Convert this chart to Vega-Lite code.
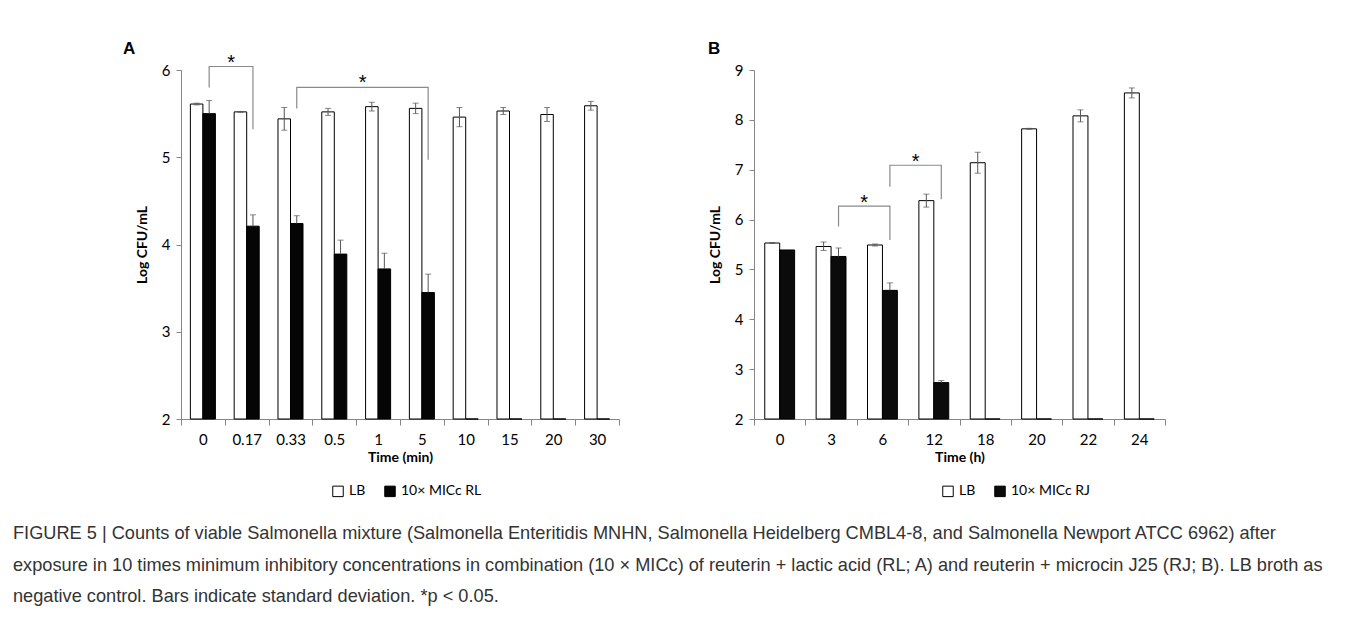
{
  "$schema": "https://vega.github.io/schema/vega-lite/v6.json",
  "background": "white",
  "padding": {"left": 13, "top": 39, "right": 5, "bottom": 5},
  "config": {
    "font": "Lato",
    "view": {"stroke": null},
    "axis": {
      "domainColor": "#868686", "tickColor": "#868686", "labelColor": "#000", "titleColor": "#000",
      "labelFont": "Lato", "titleFont": "Lato", "labelFontSize": 15, "titleFontSize": 14, "titleFontWeight": "bold", "grid": false, "tickSize": 5
    },
    "legend": {"labelFont": "Lato", "labelFontSize": 14, "labelColor": "#000"}
  },
  "datasets": {
    "barsA": [
      {"t": "0", "g": "LB", "v": 5.61}, {"t": "0", "g": "10× MICc RL", "v": 5.50},
      {"t": "0.17", "g": "LB", "v": 5.52}, {"t": "0.17", "g": "10× MICc RL", "v": 4.21},
      {"t": "0.33", "g": "LB", "v": 5.44}, {"t": "0.33", "g": "10× MICc RL", "v": 4.24},
      {"t": "0.5", "g": "LB", "v": 5.52}, {"t": "0.5", "g": "10× MICc RL", "v": 3.89},
      {"t": "1", "g": "LB", "v": 5.58}, {"t": "1", "g": "10× MICc RL", "v": 3.72},
      {"t": "5", "g": "LB", "v": 5.56}, {"t": "5", "g": "10× MICc RL", "v": 3.45},
      {"t": "10", "g": "LB", "v": 5.46}, {"t": "10", "g": "10× MICc RL", "v": 2},
      {"t": "15", "g": "LB", "v": 5.53}, {"t": "15", "g": "10× MICc RL", "v": 2},
      {"t": "20", "g": "LB", "v": 5.49}, {"t": "20", "g": "10× MICc RL", "v": 2},
      {"t": "30", "g": "LB", "v": 5.59}, {"t": "30", "g": "10× MICc RL", "v": 2}
    ],
    "errA": [
      {"t": "0", "g": "LB", "lo": 5.60, "hi": 5.62}, {"t": "0", "g": "10× MICc RL", "lo": 5.50, "hi": 5.65},
      {"t": "0.17", "g": "LB", "lo": 5.515, "hi": 5.525}, {"t": "0.17", "g": "10× MICc RL", "lo": 4.21, "hi": 4.34},
      {"t": "0.33", "g": "LB", "lo": 5.31, "hi": 5.57}, {"t": "0.33", "g": "10× MICc RL", "lo": 4.24, "hi": 4.33},
      {"t": "0.5", "g": "LB", "lo": 5.48, "hi": 5.56}, {"t": "0.5", "g": "10× MICc RL", "lo": 3.89, "hi": 4.05},
      {"t": "1", "g": "LB", "lo": 5.53, "hi": 5.63}, {"t": "1", "g": "10× MICc RL", "lo": 3.72, "hi": 3.90},
      {"t": "5", "g": "LB", "lo": 5.50, "hi": 5.62}, {"t": "5", "g": "10× MICc RL", "lo": 3.45, "hi": 3.66},
      {"t": "10", "g": "LB", "lo": 5.35, "hi": 5.57},
      {"t": "15", "g": "LB", "lo": 5.49, "hi": 5.57},
      {"t": "20", "g": "LB", "lo": 5.41, "hi": 5.57},
      {"t": "30", "g": "LB", "lo": 5.54, "hi": 5.64}
    ],
    "brA": [
      {"b": 1, "o": 1, "t": "0", "g": "10× MICc RL", "y": 5.80},
      {"b": 1, "o": 2, "t": "0", "g": "10× MICc RL", "y": 6.04},
      {"b": 1, "o": 3, "t": "0.17", "g": "10× MICc RL", "y": 6.04},
      {"b": 1, "o": 4, "t": "0.17", "g": "10× MICc RL", "y": 5.32},
      {"b": 2, "o": 1, "t": "0.33", "g": "10× MICc RL", "y": 5.56},
      {"b": 2, "o": 2, "t": "0.33", "g": "10× MICc RL", "y": 5.80},
      {"b": 2, "o": 3, "t": "5", "g": "10× MICc RL", "y": 5.80},
      {"b": 2, "o": 4, "t": "5", "g": "10× MICc RL", "y": 4.97}
    ],
    "starA": [
      {"t": "0", "g": "10× MICc RL", "y": 6.04, "s": "*"},
      {"t": "0.5", "g": "10× MICc RL", "y": 5.80, "s": "*"}
    ],
    "barsB": [
      {"t": "0", "g": "LB", "v": 5.53}, {"t": "0", "g": "10× MICc RJ", "v": 5.39},
      {"t": "3", "g": "LB", "v": 5.46}, {"t": "3", "g": "10× MICc RJ", "v": 5.26},
      {"t": "6", "g": "LB", "v": 5.49}, {"t": "6", "g": "10× MICc RJ", "v": 4.58},
      {"t": "12", "g": "LB", "v": 6.38}, {"t": "12", "g": "10× MICc RJ", "v": 2.73},
      {"t": "18", "g": "LB", "v": 7.14}, {"t": "18", "g": "10× MICc RJ", "v": 2},
      {"t": "20", "g": "LB", "v": 7.82}, {"t": "20", "g": "10× MICc RJ", "v": 2},
      {"t": "22", "g": "LB", "v": 8.08}, {"t": "22", "g": "10× MICc RJ", "v": 2},
      {"t": "24", "g": "LB", "v": 8.54}, {"t": "24", "g": "10× MICc RJ", "v": 2}
    ],
    "errB": [
      {"t": "0", "g": "LB", "lo": 5.52, "hi": 5.54},
      {"t": "3", "g": "LB", "lo": 5.38, "hi": 5.55}, {"t": "3", "g": "10× MICc RJ", "lo": 5.26, "hi": 5.43},
      {"t": "6", "g": "LB", "lo": 5.47, "hi": 5.51}, {"t": "6", "g": "10× MICc RJ", "lo": 4.58, "hi": 4.73},
      {"t": "12", "g": "LB", "lo": 6.25, "hi": 6.51}, {"t": "12", "g": "10× MICc RJ", "lo": 2.73, "hi": 2.77},
      {"t": "18", "g": "LB", "lo": 6.93, "hi": 7.35},
      {"t": "20", "g": "LB", "lo": 7.81, "hi": 7.83},
      {"t": "22", "g": "LB", "lo": 7.96, "hi": 8.20},
      {"t": "24", "g": "LB", "lo": 8.44, "hi": 8.64}
    ],
    "brB": [
      {"b": 1, "o": 1, "t": "3", "g": "10× MICc RJ", "y": 5.86},
      {"b": 1, "o": 2, "t": "3", "g": "10× MICc RJ", "y": 6.27},
      {"b": 1, "o": 3, "t": "6", "g": "10× MICc RJ", "y": 6.27},
      {"b": 1, "o": 4, "t": "6", "g": "10× MICc RJ", "y": 5.59},
      {"b": 2, "o": 1, "t": "6", "g": "10× MICc RJ", "y": 6.66},
      {"b": 2, "o": 2, "t": "6", "g": "10× MICc RJ", "y": 7.09},
      {"b": 2, "o": 3, "t": "12", "g": "10× MICc RJ", "y": 7.09},
      {"b": 2, "o": 4, "t": "12", "g": "10× MICc RJ", "y": 6.41}
    ],
    "starB": [
      {"t": "3", "g": "10× MICc RJ", "y": 6.27, "s": "*"},
      {"t": "6", "g": "10× MICc RJ", "y": 7.09, "s": "*"}
    ]
  },
  "title": {
    "text": [
      "FIGURE 5 | Counts of viable Salmonella mixture (Salmonella Enteritidis MNHN, Salmonella Heidelberg CMBL4-8, and Salmonella Newport ATCC 6962) after",
      "exposure in 10 times minimum inhibitory concentrations in combination (10 × MICc) of reuterin + lactic acid (RL; A) and reuterin + microcin J25 (RJ; B). LB broth as",
      "negative control. Bars indicate standard deviation. *p < 0.05."
    ],
    "orient": "bottom", "anchor": "start", "frame": "bounds",
    "font": "Liberation Sans", "fontSize": 18.2, "fontWeight": "normal", "color": "#333333",
    "lineHeight": 31.5, "offset": 26, "dx": -110
  },
  "spacing": 88,
  "resolve": {"scale": {"x": "independent", "y": "independent", "fill": "independent", "xOffset": "independent"}, "legend": {"fill": "independent"}},
  "hconcat": [
    {
      "width": 438, "height": 349,
      "title": {"text": "A", "anchor": "start", "frame": "group", "dx": -58, "offset": -5, "font": "Liberation Sans", "fontSize": 17, "fontWeight": "bold", "color": "#000"},
      "encoding": {
        "x": {"field": "t", "type": "nominal", "sort": ["0", "0.17", "0.33", "0.5", "1", "5", "10", "15", "20", "30"],
              "scale": {"paddingInner": 0, "paddingOuter": 0},
              "axis": {"title": "Time (min)", "labelAngle": 0, "tickBand": "extent", "tickSize": 6, "labelPadding": 7, "titlePadding": 3}},
        "xOffset": {"field": "g", "type": "nominal", "sort": ["LB", "10× MICc RL"], "scale": {"paddingOuter": 0.75, "paddingInner": 0}}
      },
      "layer": [
        {
          "data": {"name": "barsA"},
          "mark": {"type": "bar", "stroke": "#000", "strokeWidth": 1},
          "encoding": {
            "y": {"field": "v", "type": "quantitative", "scale": {"domain": [2, 6], "zero": false, "nice": false},
                  "axis": {"values": [2, 3, 4, 5, 6], "format": "d", "title": "Log CFU/mL", "labelPadding": 6, "titlePadding": 12}},
            "y2": {"datum": 2},
            "fill": {"field": "g", "type": "nominal", "sort": ["LB", "10× MICc RL"],
                     "scale": {"domain": ["LB", "10× MICc RL"], "range": ["#ffffff", "#050505"]},
                     "legend": {"title": null, "orient": "none", "legendX": 150, "legendY": 414, "direction": "horizontal",
                                "symbolType": "square", "symbolSize": 110, "symbolStrokeColor": "#000", "symbolStrokeWidth": 1, "columnPadding": 16, "labelOffset": 4}}
          }
        },
        {
          "data": {"name": "errA"},
          "mark": {"type": "rule", "color": "#555555", "strokeWidth": 1},
          "encoding": {"y": {"field": "lo", "type": "quantitative"}, "y2": {"field": "hi"}}
        },
        {
          "data": {"name": "errA"},
          "mark": {"type": "tick", "color": "#555555", "size": 6, "thickness": 1, "orient": "horizontal"},
          "encoding": {"y": {"field": "hi", "type": "quantitative"}}
        },
        {
          "data": {"name": "errA"},
          "transform": [{"filter": "datum.g == 'LB'"}],
          "mark": {"type": "tick", "color": "#555555", "size": 6, "thickness": 1, "orient": "horizontal"},
          "encoding": {"y": {"field": "lo", "type": "quantitative"}}
        },
        {
          "data": {"name": "brA"},
          "mark": {"type": "line", "color": "#8a8a8a", "strokeWidth": 1.2, "interpolate": "linear"},
          "encoding": {"y": {"field": "y", "type": "quantitative"}, "detail": {"field": "b"}, "order": {"field": "o"}}
        },
        {
          "data": {"name": "starA"},
          "mark": {"type": "text", "font": "Liberation Sans", "fontSize": 20, "dx": 22, "dy": -4, "baseline": "middle", "fill": "#000"},
          "encoding": {"y": {"field": "y", "type": "quantitative"}, "text": {"field": "s"}}
        }
      ]
    },
    {
      "width": 411, "height": 349,
      "title": {"text": "B", "anchor": "start", "frame": "group", "dx": -46, "offset": 5, "font": "Liberation Sans", "fontSize": 17, "fontWeight": "bold", "color": "#000"},
      "encoding": {
        "x": {"field": "t", "type": "nominal", "sort": ["0", "3", "6", "12", "18", "20", "22", "24"],
              "scale": {"paddingInner": 0, "paddingOuter": 0},
              "axis": {"title": "Time (h)", "labelAngle": 0, "tickBand": "extent", "tickSize": 6, "labelPadding": 7, "titlePadding": 3}},
        "xOffset": {"field": "g", "type": "nominal", "sort": ["LB", "10× MICc RJ"], "scale": {"paddingOuter": 0.72, "paddingInner": 0}}
      },
      "layer": [
        {
          "data": {"name": "barsB"},
          "mark": {"type": "bar", "stroke": "#000", "strokeWidth": 1},
          "encoding": {
            "y": {"field": "v", "type": "quantitative", "scale": {"domain": [2, 9], "zero": false, "nice": false},
                  "axis": {"values": [2, 3, 4, 5, 6, 7, 8, 9], "format": "d", "title": "Log CFU/mL", "labelPadding": 6, "titlePadding": 12}},
            "y2": {"datum": 2},
            "fill": {"field": "g", "type": "nominal", "sort": ["LB", "10× MICc RJ"],
                     "scale": {"domain": ["LB", "10× MICc RJ"], "range": ["#ffffff", "#0b0b0b"]},
                     "legend": {"title": null, "orient": "none", "legendX": 187, "legendY": 414, "direction": "horizontal",
                                "symbolType": "square", "symbolSize": 110, "symbolStrokeColor": "#000", "symbolStrokeWidth": 1, "columnPadding": 16, "labelOffset": 4}}
          }
        },
        {
          "data": {"name": "errB"},
          "mark": {"type": "rule", "color": "#555555", "strokeWidth": 1},
          "encoding": {"y": {"field": "lo", "type": "quantitative"}, "y2": {"field": "hi"}}
        },
        {
          "data": {"name": "errB"},
          "mark": {"type": "tick", "color": "#555555", "size": 6, "thickness": 1, "orient": "horizontal"},
          "encoding": {"y": {"field": "hi", "type": "quantitative"}}
        },
        {
          "data": {"name": "errB"},
          "transform": [{"filter": "datum.g == 'LB'"}],
          "mark": {"type": "tick", "color": "#555555", "size": 6, "thickness": 1, "orient": "horizontal"},
          "encoding": {"y": {"field": "lo", "type": "quantitative"}}
        },
        {
          "data": {"name": "brB"},
          "mark": {"type": "line", "color": "#8a8a8a", "strokeWidth": 1.2, "interpolate": "linear"},
          "encoding": {"y": {"field": "y", "type": "quantitative"}, "detail": {"field": "b"}, "order": {"field": "o"}}
        },
        {
          "data": {"name": "starB"},
          "mark": {"type": "text", "font": "Liberation Sans", "fontSize": 20, "dx": 25.7, "dy": -3, "baseline": "middle", "fill": "#000"},
          "encoding": {"y": {"field": "y", "type": "quantitative"}, "text": {"field": "s"}}
        }
      ]
    }
  ]
}
